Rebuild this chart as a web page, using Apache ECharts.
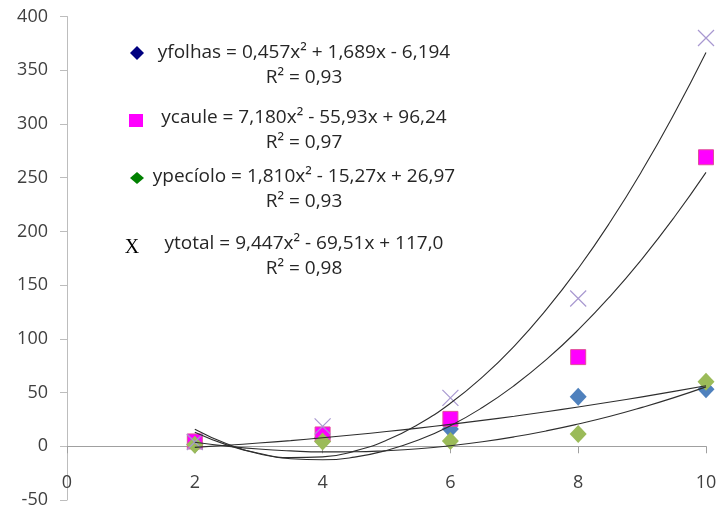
<!DOCTYPE html>
<html>
<head>
<meta charset="utf-8">
<script src="https://cdn.jsdelivr.net/npm/echarts@6/dist/echarts.min.js"></script>
<style>
html,body{margin:0;padding:0;background:#fff;}
#chart{width:721px;height:510px;}
</style>
</head>
<body>
<div id="chart"></div>
<script>
// Observed points
const xValues = [2, 4, 6, 8, 10];
const folhas = [2, 8, 16, 46, 53];
const caule = [4.5, 11, 25.5, 83, 269];
const peciolo = [1.5, 4.5, 5, 11.5, 60];
const total = [4, 18.5, 45, 137.5, 380];

// Trendline curves
const trendX = [2, 2.5, 3, 3.5, 4, 4.5, 5, 5.5, 6, 6.5, 7, 7.5, 8, 8.5, 9, 9.5, 10];
const trendFolhas = [-1.0, 0.9, 3.0, 5.3, 7.9, 10.7, 13.7, 16.9, 20.4, 24.1, 28.0, 32.2, 36.6, 41.2, 46.0, 51.1, 56.4];
const trendCaule = [13.1, 1.3, -6.9, -11.6, -12.6, -10.1, -3.9, 5.8, 19.1, 36.1, 56.6, 80.6, 108.3, 139.6, 174.5, 212.9, 254.9];
const trendPeciolo = [3.7, 0.1, -2.6, -4.3, -5.2, -5.1, -4.1, -2.3, 0.5, 4.2, 8.8, 14.3, 20.7, 27.9, 36.2, 45.3, 55.3];
const trendTotal = [15.8, 2.3, -6.5, -10.6, -9.9, -4.5, 5.6, 20.5, 40.0, 64.3, 93.3, 127.1, 165.5, 208.7, 256.6, 309.3, 366.6];

// Tick labels / legend texts
const xTicks = [0, 2, 4, 6, 8, 10];
const yTicks = [-50, 0, 50, 100, 150, 200, 250, 300, 350, 400];
const equations = [
  'yfolhas = 0,457x² + 1,689x - 6,194',
  'ycaule = 7,180x² - 55,93x + 96,24',
  'ypecíolo = 1,810x² - 15,27x + 26,97',
  'ytotal = 9,447x² - 69,51x + 117,0'
];
const r2Labels = ['R² = 0,93', 'R² = 0,97', 'R² = 0,93', 'R² = 0,98'];

const pair = (xs, ys) => xs.map((x, i) => [x, ys[i]]);
const FONT = 'Open Sans';
const chart = echarts.init(document.getElementById('chart'));

const lineSeries = (ys) => ({
  type: 'line',
  data: pair(trendX, ys),
  smooth: true,
  showSymbol: false,
  symbol: 'none',
  lineStyle: { color: '#2e2e2e', width: 1.1 },
  z: 5,
  silent: true
});

const blockY = [53, 118, 177, 244];
const graphics = [];
equations.forEach((eq, i) => {
  graphics.push({
    type: 'text', x: 304, y: blockY[i],
    style: { text: eq, font: '19px "' + FONT + '"', fill: '#262626', textAlign: 'center', textVerticalAlign: 'middle' }
  });
  graphics.push({
    type: 'text', x: 304, y: blockY[i] + 25,
    style: { text: r2Labels[i], font: '19px "' + FONT + '"', fill: '#262626', textAlign: 'center', textVerticalAlign: 'middle' }
  });
});
graphics.push({ type: 'polygon', shape: { points: [[137, 46], [144, 53], [137, 60], [130, 53]] }, style: { fill: '#000080' } });
graphics.push({ type: 'rect', shape: { x: 129, y: 114, width: 14, height: 13 }, style: { fill: '#ff00ff' } });
graphics.push({ type: 'polygon', shape: { points: [[137, 172], [144, 178], [137, 184], [130, 178]] }, style: { fill: '#008000' } });
graphics.push({
  type: 'text', x: 132, y: 248,
  style: { text: 'X', font: '20px "Liberation Serif"', fill: '#000', textAlign: 'center', textVerticalAlign: 'middle' }
});

chart.setOption({
  backgroundColor: '#ffffff',
  animation: false,
  grid: { left: 67, right: 15, top: 16.5, bottom: 10, containLabel: false, outerBoundsMode: 'none' },
  xAxis: {
    type: 'value', min: 0, max: 10, interval: 2,
    axisLine: { onZero: true, lineStyle: { color: '#a0a0a0', width: 1 } },
    axisTick: { show: true, inside: false, length: 7, lineStyle: { color: '#a0a0a0' } },
    axisLabel: { margin: -26, fontFamily: FONT, fontSize: 18, color: '#404040',
      formatter: v => xTicks.includes(v) ? String(v) : '' },
    splitLine: { show: false }
  },
  yAxis: {
    type: 'value', min: -50, max: 400, interval: 50,
    axisLine: { show: true, onZero: false, lineStyle: { color: '#bdbdbd', width: 1 } },
    axisTick: { show: true, inside: false, length: 7, lineStyle: { color: '#bdbdbd' } },
    axisLabel: { margin: 19, fontFamily: FONT, fontSize: 18, color: '#404040',
      formatter: v => yTicks.includes(v) ? String(v) : '' },
    splitLine: { show: false }
  },
  series: [
    { type: 'scatter', name: 'folhas', data: pair(xValues, folhas), symbol: 'diamond', symbolSize: [17, 18],
      itemStyle: { color: '#4f81bd', opacity: 1 }, z: 2 },
    { type: 'scatter', name: 'caule', data: pair(xValues, caule), symbol: 'rect', symbolSize: 15,
      itemStyle: { color: '#ff00ff', borderColor: '#e0509a', borderWidth: 1, opacity: 1 }, z: 2 },
    { type: 'scatter', name: 'peciolo', data: pair(xValues, peciolo), symbol: 'diamond', symbolSize: [17, 18],
      itemStyle: { color: '#9bbb59', opacity: 1 }, z: 2 },
    { type: 'scatter', name: 'total', data: pair(xValues, total), symbol: 'path://M0,0L10,10M10,0L0,10', symbolSize: 16,
      itemStyle: { color: 'none', borderColor: '#a898d0', borderWidth: 1.2, opacity: 1 }, z: 2 },
    lineSeries(trendFolhas),
    lineSeries(trendCaule),
    lineSeries(trendPeciolo),
    lineSeries(trendTotal)
  ],
  graphic: graphics
});
</script>
</body>
</html>
